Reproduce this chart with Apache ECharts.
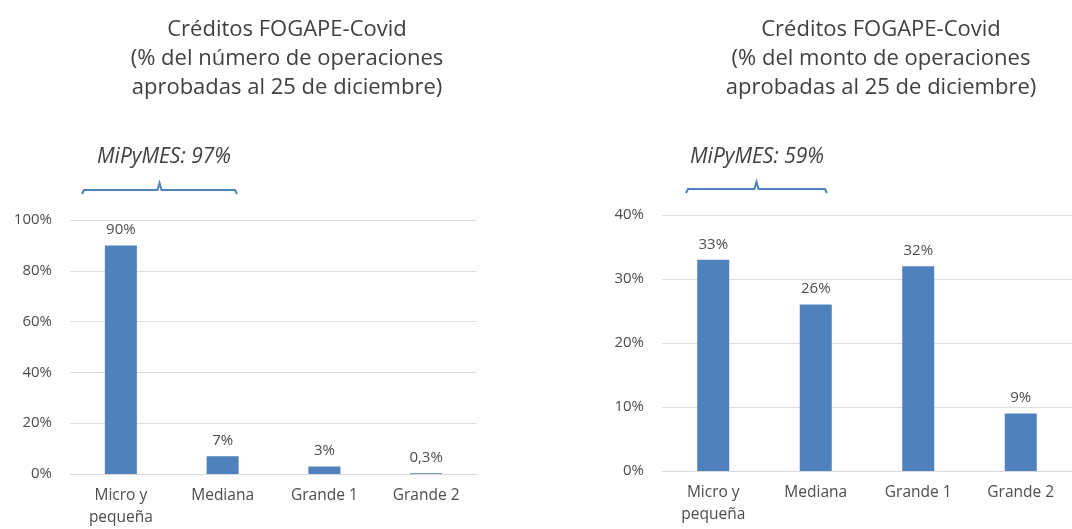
<!DOCTYPE html>
<html>
<head>
<meta charset="utf-8">
<script src="https://cdn.jsdelivr.net/npm/echarts@6/dist/echarts.min.js"></script>
<style>
  html, body { margin: 0; padding: 0; background: #fff; }
  #chart { width: 1072px; height: 529px; }
</style>
</head>
<body>
<div id="chart"></div>
<script>
// datos
const categorias = ['Micro y\npequeña', 'Mediana', 'Grande 1', 'Grande 2'];
const pctNumero = [90, 7, 3, 0.3];
const pctMonto = [33, 26, 32, 9];
const tituloNumero = 'Créditos FOGAPE-Covid\n(% del número de operaciones\naprobadas al 25 de diciembre)';
const tituloMonto = 'Créditos FOGAPE-Covid\n(% del monto de operaciones\naprobadas al 25 de diciembre)';
const notaNumero = 'MiPyMES: 97%';
const notaMonto = 'MiPyMES: 59%';

const azul = '#4f81bd';
const fuente = 'Open Sans';

const fmtPct = (v) => String(v).replace('.', ',') + '%';

const makeX = (gridIndex) => ({
    type: 'category',
    gridIndex: gridIndex,
    data: categorias,
    axisTick: { show: false },
    axisLine: { lineStyle: { color: '#d9d9d9', width: 1 } },
    axisLabel: {
        color: '#4d4d4d',
        fontFamily: fuente,
        fontSize: 15.5,
        lineHeight: 22,
        margin: 11,
        interval: 0
    }
});

const makeY = (gridIndex, max, interval) => ({
    type: 'value',
    gridIndex: gridIndex,
    min: 0,
    max: max,
    interval: interval,
    axisLine: { show: false },
    axisTick: { show: false },
    splitLine: { lineStyle: { color: '#dedede', width: 1 } },
    axisLabel: {
        color: '#4d4d4d',
        fontFamily: fuente,
        fontSize: 15,
        margin: 18,
        formatter: '{value}%'
    }
});

const makeBar = (idx, data) => ({
    type: 'bar',
    xAxisIndex: idx,
    yAxisIndex: idx,
    data: data,
    barWidth: 32,
    itemStyle: { color: azul },
    label: {
        show: true,
        position: 'top',
        distance: 8,
        color: '#4d4d4d',
        fontFamily: fuente,
        fontSize: 15,
        formatter: (p) => fmtPct(p.value)
    }
});

const tituloStyle = {
    color: '#404040',
    fontFamily: fuente,
    fontSize: 22,
    fontWeight: 'normal',
    lineHeight: 29
};

const llave = (x1, x2, y) => {
    let m = (x1 + x2) / 2;
    return {
        type: 'polyline',
        shape: { points: [[x1, y + 4], [x1 + 2, y], [m - 2, y], [m, y - 7], [m + 2, y], [x2 - 2, y], [x2, y + 4]] },
        style: { stroke: azul, lineWidth: 2, fill: null }
    };
};

const nota = (txt, x, y) => ({
    type: 'text',
    x: x,
    y: y,
    style: {
        text: txt,
        fill: '#404040',
        font: 'italic 21px "Open Sans"',
        textAlign: 'center',
        textVerticalAlign: 'middle'
    }
});

const chart = echarts.init(document.getElementById('chart'));
chart.setOption({
    backgroundColor: '#fff',
    animation: false,
    title: [
        { text: tituloNumero, left: 282, top: 10, textAlign: 'center', textStyle: tituloStyle },
        { text: tituloMonto, left: 876, top: 10, textAlign: 'center', textStyle: tituloStyle }
    ],
    grid: [
        { left: 70, top: 220, width: 407, height: 256 },
        { left: 662, top: 215, width: 416, height: 256 }
    ],
    xAxis: [makeX(0), makeX(1)],
    yAxis: [makeY(0, 100, 20), makeY(1, 40, 10)],
    series: [makeBar(0, pctNumero), makeBar(1, pctMonto)],
    graphic: [
        nota(notaNumero, 164, 157),
        llave(82, 237, 190),
        nota(notaMonto, 757, 157),
        llave(686, 827, 189)
    ]
});
</script>
</body>
</html>
